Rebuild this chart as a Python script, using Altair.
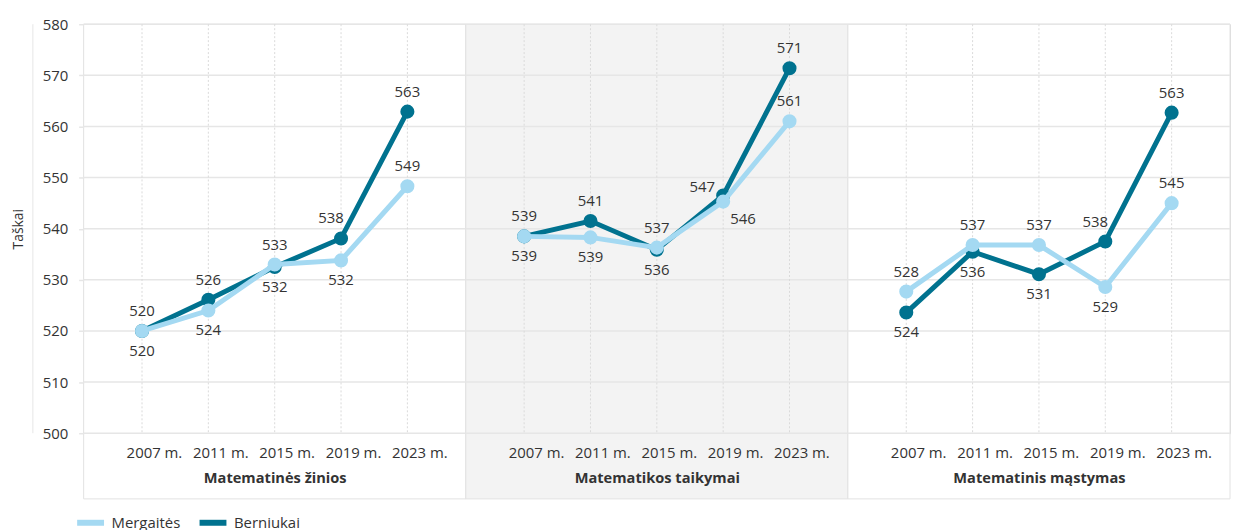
import altair as alt
import pandas as pd

years = ["2007 m.", "2011 m.", "2015 m.", "2019 m.", "2023 m."]
panels = ["Matematinės žinios", "Matematikos taikymai", "Matematinis mąstymas"]
series = ["Mergaitės", "Berniukai"]
y_ticks = [500, 510, 520, 530, 540, 550, 560, 570, 580]

# plotted values
girls_zinios = [520.0, 524.0, 533.0, 533.8, 548.3]
boys_zinios = [520.0, 526.1, 532.5, 538.1, 562.9]
girls_taikymai = [538.5, 538.3, 536.3, 545.3, 561.0]
boys_taikymai = [538.5, 541.5, 535.9, 546.5, 571.4]
girls_mastymas = [527.7, 536.8, 536.8, 528.6, 545.0]
boys_mastymas = [523.6, 535.5, 531.1, 537.5, 562.7]

# printed labels
girls_zinios_lbl = ["520", "524", "533", "532", "549"]
boys_zinios_lbl = ["520", "526", "532", "538", "563"]
girls_taikymai_lbl = ["539", "539", "537", "546", "561"]
boys_taikymai_lbl = ["539", "541", "536", "547", "571"]
girls_mastymas_lbl = ["528", "537", "537", "529", "545"]
boys_mastymas_lbl = ["524", "536", "531", "538", "563"]

# label placement codes
girls_zinios_pos = ["below", "below", "above", "below", "above"]
boys_zinios_pos = ["above", "above", "below", "above-left", "above"]
girls_taikymai_pos = ["below", "below", "above", "below-right", "above"]
boys_taikymai_pos = ["above", "above", "below", "left", "above"]
girls_mastymas_pos = ["above", "above", "above", "below", "above"]
boys_mastymas_pos = ["below", "below", "below", "above-left", "above"]

LIGHT = "#a4d9f2"
DARK = "#00728f"
TXT = "#333333"
GRID = "#e6e6e6"
FONT = "Open Sans"
W = 384
H = 411

offsets = {
    "above": (0, -20),
    "below": (0, 20),
    "above-left": (-10, -20),
    "left": (-21, -9),
    "below-right": (20, 17),
}

color = alt.Color(
    "series:N",
    scale=alt.Scale(domain=series, range=[LIGHT, DARK]),
    legend=alt.Legend(
        title=None, orient="none", legendX=-10, legendY=484, direction="horizontal",
        symbolType="stroke", symbolStrokeWidth=6, symbolSize=730,
        labelFontSize=15, labelColor=TXT, labelFont=FONT, labelOffset=4, columnPadding=6,
    ),
)

ys = alt.Scale(domain=[500, 580], nice=False, zero=False)
xs = alt.Scale(type="point", domain=years, padding=0.88)


def panel(idx, name, g, b, gl, bl, gp, bp, fill):
    df = pd.DataFrame({
        "year": years * 2,
        "series": ["Mergaitės"] * 5 + ["Berniukai"] * 5,
        "value": g + b,
        "label": gl + bl,
        "place": gp + bp,
    })
    if idx == 0:
        yaxis = alt.Axis(values=y_ticks, grid=False, domain=False, tickColor=GRID, tickSize=5,
                         tickWidth=1.5, labelPadding=11, labelFontSize=15, labelColor=TXT,
                         labelFont=FONT, title="Taškai", titleFontSize=14, titleFontWeight="normal",
                         titlePadding=17, titleColor=TXT, titleFont=FONT, zindex=1)
    else:
        yaxis = None
    xaxis = alt.Axis(title=name, labelAngle=0, domain=False, ticks=False, tickSize=0, grid=False,
                     labelPadding=12, labelOffset=12, labelFontSize=15, labelColor=TXT, labelFont=FONT,
                     titleFontSize=14.7, titleFontWeight="bold", titlePadding=11, titleColor=TXT,
                     titleFont=FONT, zindex=1)

    X = alt.X("year:O", scale=xs, axis=xaxis, title=name)

    def Y(field):
        return alt.Y(field, scale=ys, axis=yaxis, title="Taškai")

    bg = alt.Chart(pd.DataFrame({"k": [0]})).mark_rect(
        fill=fill, stroke="#e2e2e2", strokeWidth=1
    ).encode(x=alt.value(0), x2=alt.value(W), y=alt.value(0), y2=alt.value(H + 66))

    hgrid = alt.Chart(pd.DataFrame({"v": y_ticks})).mark_rule(
        color=GRID, strokeWidth=1.5
    ).encode(y=Y("v:Q"), x=alt.value(0), x2=alt.value(W))

    vgrid = alt.Chart(pd.DataFrame({"year": years})).mark_rule(
        color="#dadada", strokeDash=[2, 2], strokeWidth=1
    ).encode(x=X, y=alt.value(0), y2=alt.value(H))

    layers = [bg, hgrid, vgrid]
    if idx == 0:
        layers.append(
            alt.Chart(pd.DataFrame({"k": [0]})).mark_rule(color=GRID, strokeWidth=1).encode(
                x=alt.value(-51), y=alt.value(0), y2=alt.value(H)
            )
        )

    base = alt.Chart(df)
    for s in ["Berniukai", "Mergaitės"]:
        sub = base.transform_filter(alt.datum.series == s)
        layers.append(sub.mark_line(strokeWidth=5).encode(x=X, y=Y("value:Q"), color=color))
        layers.append(sub.mark_circle(size=200, opacity=1).encode(x=X, y=Y("value:Q"), color=color))
    for code, (dx, dy) in offsets.items():
        layers.append(
            base.transform_filter(alt.datum.place == code).mark_text(
                dx=dx, dy=dy, fontSize=15, color=TXT, font=FONT, baseline="middle"
            ).encode(x=X, y=Y("value:Q"), text="label:N")
        )
    return alt.layer(*layers).properties(width=W, height=H)


p1 = panel(0, panels[0], girls_zinios, boys_zinios, girls_zinios_lbl, boys_zinios_lbl,
           girls_zinios_pos, boys_zinios_pos, "#ffffff")
p2 = panel(1, panels[1], girls_taikymai, boys_taikymai, girls_taikymai_lbl, boys_taikymai_lbl,
           girls_taikymai_pos, boys_taikymai_pos, "#f3f3f3")
p3 = panel(2, panels[2], girls_mastymas, boys_mastymas, girls_mastymas_lbl, boys_mastymas_lbl,
           girls_mastymas_pos, boys_mastymas_pos, "#ffffff")

chart = alt.hconcat(p1, p2, p3, spacing=0, bounds="flush").properties(
    padding={"left": 2, "top": 7, "right": 0, "bottom": 0}
).configure_view(stroke=None).configure(font=FONT)

chart.save("out.html", embed_options={"renderer": "svg", "actions": False})
